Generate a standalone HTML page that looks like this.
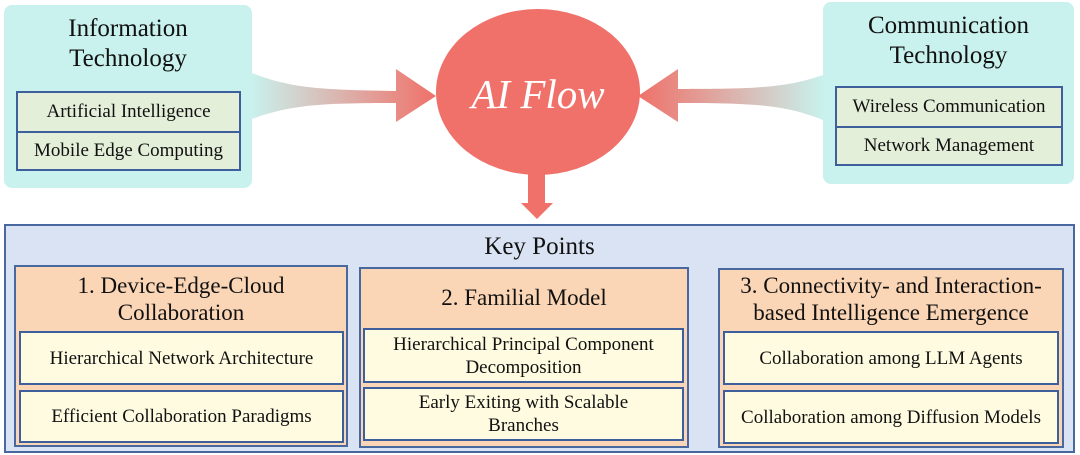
<!DOCTYPE html>
<html><head><meta charset="utf-8"><style>
*{margin:0;padding:0;box-sizing:border-box}
body{width:1080px;height:455px;background:#fff;position:relative;overflow:hidden;font-family:"Liberation Serif","Times New Roman",Times,serif;color:#111}
.a{position:absolute}
.teal{background:#c9f1ed;border-radius:8px}
.t{text-align:center;font-size:25px;line-height:30px;font-family:"Liberation Serif",Times,serif}
.sb{border:2px solid #3d5f9c;background:#e4efd9}
.sb div{height:50%;display:flex;align-items:center;justify-content:center;font-size:19px;font-family:"Liberation Serif",Times,serif}
.sb div+div{border-top:2px solid #3d5f9c}
.col{background:#fbd6b6;border:2px solid #4a68a0}
.it{position:absolute;background:#fefbe0;border:2px solid #3d5f9c;display:flex;align-items:center;justify-content:center;text-align:center;font-size:19px;line-height:23px;font-family:"Liberation Serif",Times,serif}
</style></head><body>
<div class="a teal" style="left:4px;top:5px;width:248px;height:183px"></div>
<div class="a t" style="left:4px;top:14px;width:248px">Information<br>Technology</div>
<div class="a sb" style="left:16px;top:91px;width:225px;height:80px"><div>Artificial Intelligence</div><div>Mobile Edge Computing</div></div>

<div class="a teal" style="left:823px;top:2px;width:251px;height:182px"></div>
<div class="a t" style="left:823px;top:11px;width:251px">Communication<br>Technology</div>
<div class="a sb" style="left:835px;top:86px;width:228px;height:80px"><div>Wireless Communication</div><div>Network Management</div></div>

<svg class="a" style="left:0;top:0" width="1080" height="230">
<defs>
<linearGradient id="g1" x1="252" x2="436" y1="0" y2="0" gradientUnits="userSpaceOnUse"><stop offset="0" stop-color="#c9f1ed"/><stop offset="1" stop-color="#ef7169"/></linearGradient>
<linearGradient id="g2" x1="823" x2="638" y1="0" y2="0" gradientUnits="userSpaceOnUse"><stop offset="0" stop-color="#c9f1ed"/><stop offset="1" stop-color="#ef7169"/></linearGradient>
</defs>
<path d="M252 73 C290 88 320 90 396 91 L396 69 L436 96 L396 122 L396 103 C320 103 290 105 252 119 Z" fill="url(#g1)"/>
<path d="M823 75 C785 88 755 89 678 89 L678 69 L638 96 L678 122 L678 103 C755 103 785 105 823 120 Z" fill="url(#g2)"/>
<ellipse cx="538" cy="92" rx="102" ry="83" fill="#ef7169"/>
<path d="M528 170 L545 170 L545 203 L553 203 L537 219 L521 203 L528 203 Z" fill="#ef7169"/>
<text x="538" y="108" text-anchor="middle" font-family="Liberation Serif, Times, serif" font-style="italic" font-size="41" fill="#fff">AI Flow</text>
</svg>

<div class="a" style="left:4px;top:224px;width:1071px;height:229px;background:#dae3f3;border:2px solid #4a68a0"></div>
<div class="a t" style="left:4px;top:232px;width:1071px">Key Points</div>

<div class="a col" style="left:14px;top:265px;width:334px;height:182px"></div>
<div class="a t" style="left:14px;top:272px;width:334px;font-size:23px;line-height:27px">1. Device-Edge-Cloud<br>Collaboration</div>
<div class="it" style="left:19px;top:331px;width:325px;height:54px">Hierarchical Network Architecture</div>
<div class="it" style="left:19px;top:390px;width:325px;height:53px">Efficient Collaboration Paradigms</div>

<div class="a col" style="left:359px;top:267px;width:330px;height:181px"></div>
<div class="a t" style="left:359px;top:284px;width:330px;font-size:23px;line-height:27px">2. Familial Model</div>
<div class="it" style="left:363px;top:328px;width:321px;height:55px">Hierarchical Principal Component<br>Decomposition</div>
<div class="it" style="left:363px;top:387px;width:321px;height:54px">Early Exiting with Scalable<br>Branches</div>

<div class="a col" style="left:718px;top:268px;width:346px;height:180px"></div>
<div class="a t" style="left:718px;top:272px;width:346px;font-size:23px;line-height:27px">3. Connectivity- and Interaction-<br>based Intelligence Emergence</div>
<div class="it" style="left:723px;top:331px;width:336px;height:54px">Collaboration among LLM Agents</div>
<div class="it" style="left:723px;top:390px;width:336px;height:54px">Collaboration among Diffusion Models</div>
</body></html>
